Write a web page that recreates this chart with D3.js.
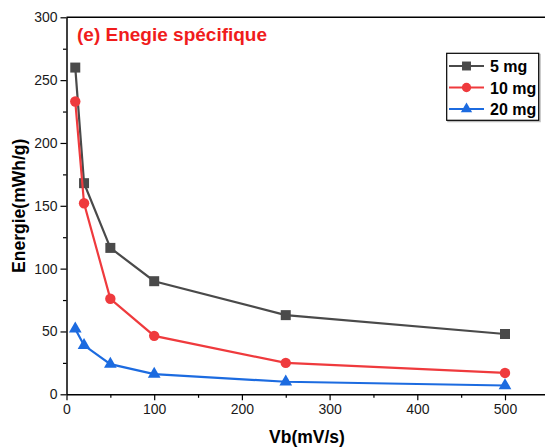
<!DOCTYPE html>
<html><head><meta charset="utf-8">
<script src="https://cdn.jsdelivr.net/npm/d3@7/dist/d3.min.js"></script>
<style>body{margin:0;background:#fff}svg{display:block;font-family:"Liberation Sans",Arial,sans-serif}</style>
</head><body><svg id="c" width="545" height="447"></svg>
<script>
const scanRates = [10, 20, 50, 100, 250, 500];
const energy5mg = [260, 168, 116.5, 90, 63, 48];
const energy10mg = [233, 152, 76, 46.5, 25, 17];
const energy20mg = [52, 39, 24, 16, 10, 7];
const seriesNames = ["5 mg", "10 mg", "20 mg"];
const xTicks = [0, 100, 200, 300, 400, 500];
const yTicks = [0, 50, 100, 150, 200, 250, 300];

const svg = d3.select("#c");
const x = d3.scaleLinear().domain([0, 550]).range([66.5, 66.5 + 550 * 0.877]);
const y = d3.scaleLinear().domain([0, 300]).range([394.3, 17.3]);

const series = [
  {name: seriesNames[0], vals: energy5mg, color: "#4a4a4a", sym: d3.symbolSquare, size: 100},
  {name: seriesNames[1], vals: energy10mg, color: "#ef3a3d", sym: d3.symbolCircle, size: 85},
  {name: seriesNames[2], vals: energy20mg, color: "#1c6be0", sym: d3.symbolTriangle, size: 70}
];

// top frame line
svg.append("line").attr("x1", 66.5).attr("x2", 545).attr("y1", 17.3).attr("y2", 17.3)
  .attr("stroke", "#000").attr("stroke-width", 1.5);

// axes
const xAxis = svg.append("g").attr("transform", "translate(0,394.3)")
  .call(d3.axisBottom(x).tickValues(xTicks).tickSize(6).tickSizeOuter(0).tickPadding(4));
const xMinor = svg.append("g").attr("transform", "translate(0,394.3)")
  .call(d3.axisBottom(x).tickValues([50,150,250,350,450,550]).tickSize(3.5).tickFormat("").tickSizeOuter(0));
const yAxis = svg.append("g").attr("transform", "translate(66.5,0)")
  .call(d3.axisLeft(y).tickValues(yTicks).tickSize(6).tickSizeOuter(0).tickPadding(3));
const yMinor = svg.append("g").attr("transform", "translate(66.5,0)")
  .call(d3.axisLeft(y).tickValues([25,75,125,175,225,275]).tickSize(3.5).tickFormat("").tickSizeOuter(0));
[xAxis, xMinor, yAxis, yMinor].forEach(g => {
  g.select(".domain").attr("stroke", "#000").attr("stroke-width", 1.5);
  g.selectAll(".tick line").attr("stroke", "#000").attr("stroke-width", 1.2);
  g.selectAll("text").attr("font-size", 14).attr("fill", "#1a1a1a").attr("font-family", "'Liberation Sans',Arial,sans-serif");
});
xMinor.select(".domain").remove(); yMinor.select(".domain").remove();

// lines and markers
const line = d3.line().x((d,i) => x(scanRates[i])).y(d => y(d));
series.forEach(s => {
  svg.append("path").datum(s.vals).attr("d", line).attr("fill", "none")
    .attr("stroke", s.color).attr("stroke-width", 2.2);
  svg.append("g").selectAll("path").data(s.vals).join("path")
    .attr("transform", (d,i) => `translate(${x(scanRates[i])},${y(d)})`)
    .attr("d", d3.symbol().type(s.sym).size(s.size)).attr("fill", s.color);
});

// title
svg.append("text").attr("x", 77).attr("y", 41).attr("fill", "#f01c1c")
  .attr("font-size", 19).attr("font-weight", "bold").text("(e) Enegie spécifique");

// axis titles
svg.append("text").attr("x", 307).attr("y", 443).attr("text-anchor", "middle")
  .attr("font-size", 17.5).attr("font-weight", "bold").attr("fill", "#000").text("Vb(mV/s)");
svg.append("text").attr("transform", "translate(24.5,205.8) rotate(-90)").attr("text-anchor", "middle")
  .attr("font-size", 17.5).attr("font-weight", "bold").attr("fill", "#000").text("Energie(mWh/g)");

// legend
const lg = svg.append("g");
lg.append("rect").attr("x", 448).attr("y", 54.5).attr("width", 92).attr("height", 67)
  .attr("fill", "none").attr("stroke", "#bbb").attr("stroke-width", 1.5);
lg.append("rect").attr("x", 446.7).attr("y", 53.3).attr("width", 92).attr("height", 67)
  .attr("fill", "#fff").attr("stroke", "#000").attr("stroke-width", 1.2);
const rowY = [66, 87.5, 109];
series.forEach((s, i) => {
  lg.append("line").attr("x1", 449).attr("x2", 484).attr("y1", rowY[i]).attr("y2", rowY[i])
    .attr("stroke", s.color).attr("stroke-width", 2.2);
  lg.append("path").attr("transform", `translate(466.5,${rowY[i]})`)
    .attr("d", d3.symbol().type(s.sym).size(s.size*0.8)).attr("fill", s.color);
  lg.append("text").attr("x", 490).attr("y", rowY[i] + 6).attr("font-size", 16)
    .attr("font-weight", "bold").attr("fill", "#000").text(s.name);
});
</script></body></html>
